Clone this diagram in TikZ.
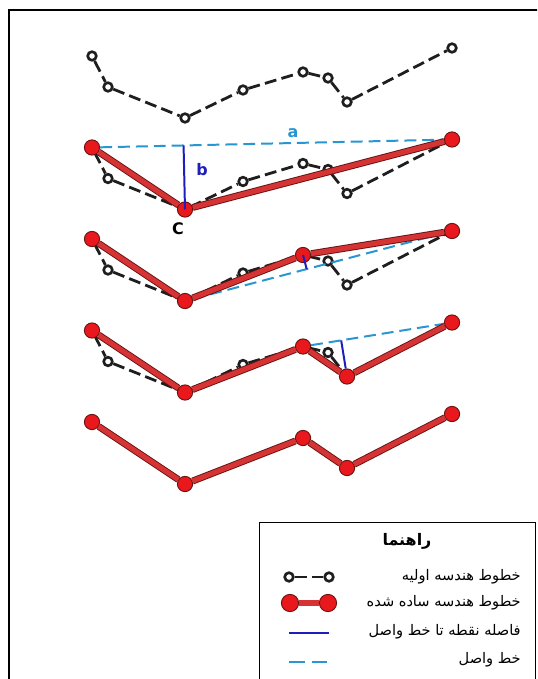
\documentclass[tikz,border=0pt]{standalone}
\usepackage{fontspec}
\setmainfont{DejaVu Sans}
\newfontfamily\arabicfont[Script=Arabic]{DejaVu Sans}
\TeXXeTstate=1
\usetikzlibrary{calc}
\definecolor{ptred}{RGB}{232,24,28}
\definecolor{edgered}{RGB}{105,18,18}
\definecolor{linered}{RGB}{214,52,52}
\definecolor{joinblue}{RGB}{40,150,210}
\definecolor{distblue}{RGB}{30,30,190}
\definecolor{origgray}{RGB}{30,30,30}

\begin{document}
\begin{tikzpicture}[x=0.0265cm,y=-0.0265cm,
  orig/.style={circle,draw=origgray,fill=white,line width=2pt,minimum size=6.5pt,inner sep=0pt},
  origline/.style={origgray,line width=2.1pt,dash pattern=on 9pt off 4pt},
  simp/.style={circle,draw=edgered,fill=ptred,line width=0.7pt,minimum size=11.5pt,inner sep=0pt},
  simpline/.style={draw=edgered,double=linered,double distance=3.8pt,line width=0.7pt},
  joinline/.style={joinblue,line width=1.5pt,dash pattern=on 9pt off 4.5pt},
  distline/.style={distblue,line width=1.5pt},
  lbl/.style={font=\bfseries\large},
  legtext/.style={anchor=east,inner sep=0pt,font=\arabicfont\fontsize{11}{13}\selectfont}
]
  \useasboundingbox (0,0) rectangle (537,679);
  \fill[white] (0,0) rectangle (537,679);
  \clip (0,0) rectangle (537,679);
  \draw[line width=1.5pt] (9,10) rectangle (560,700);

  % original vertices of the line
  \foreach \i/\x/\y in {1/92/56,2/108/87,3/185/118,4/243/90,5/303/72,6/328/78,7/347/102,8/452/48}
    \coordinate (p\i) at (\x,\y);

  % rows with the original geometry
  \foreach \row in {0,1,2,3}{
    \foreach \i in {1,...,8}
      \node[orig] (o\row-\i) at ($(p\i)+(0,91.5*\row)$) {};
    \draw[origline] (o\row-1) -- (o\row-2) -- (o\row-3) -- (o\row-4) -- (o\row-5)
      -- (o\row-6) -- (o\row-7) -- (o\row-8);
  }

  % simplified vertices
  \foreach \row/\pts in {1/{1,3,8},2/{1,3,5,8},3/{1,3,5,7,8},4/{1,3,5,7,8}}
    \foreach \i in \pts
      \node[simp] (s\row-\i) at ($(p\i)+(0,91.5*\row)$) {};

  \draw[joinline] (s1-1) -- (s1-8);
  \draw[joinline] (s2-3) -- (s2-8);
  \draw[joinline] (s3-5) -- (s3-8);

  \draw[simpline] (s1-1) -- (s1-3) -- (s1-8);
  \draw[simpline] (s2-1) -- (s2-3) -- (s2-5) -- (s2-8);
  \draw[simpline] (s3-1) -- (s3-3) -- (s3-5) -- (s3-7) -- (s3-8);
  \draw[simpline] (s4-1) -- (s4-3) -- (s4-5) -- (s4-7) -- (s4-8);

  \coordinate (f1) at ($(s1-1)!(s1-3)!(s1-8)$);
  \coordinate (f2) at ($(s2-3)!(s2-5)!(s2-8)$);
  \coordinate (f3) at ($(s3-5)!(s3-7)!(s3-8)$);
  \draw[distline] (s1-3.center) -- (f1);
  \draw[distline] (s2-5.center) -- (f2);
  \draw[distline] (s3-7) -- (f3);

  \node[lbl,text=joinblue] (la) at (293,133) {a};
  \node[lbl,text=distblue] (lb) at (202,170) {b};
  \node[lbl] (lc) at (178,229) {C};

  % legend
  \draw[line width=0.6pt] (259,522) rectangle (535,700);
  \node[font=\arabicfont\bfseries\fontsize{12}{14}\selectfont] (legtitle) at (407,541) {\beginR راهنما\endR};
  \node[orig] (lo1) at (289,577) {};
  \node[orig] (lo2) at (329,577) {};
  \draw[origline] (lo1) -- (lo2);
  \node[simp,minimum size=13pt] (ls1) at (290,603) {};
  \node[simp,minimum size=13pt] (ls2) at (328,603) {};
  \draw[simpline] (ls1) -- (ls2);
  \coordinate (ld1) at (289,633);
  \coordinate (ld2) at (329,633);
  \draw[distline] (ld1) -- (ld2);
  \coordinate (lj1) at (289,662);
  \coordinate (lj2) at (329,662);
  \draw[joinline,dash pattern=on 12pt off 5pt] (lj1) -- (lj2);
  \node[legtext] (lt1) at (521,577) {\beginR خطوط هندسه اولیه\endR};
  \node[legtext] (lt2) at (521,603) {\beginR خطوط هندسه ساده شده\endR};
  \node[legtext] (lt3) at (521,632) {\beginR فاصله نقطه تا خط واصل\endR};
  \node[legtext] (lt4) at (521,660) {\beginR خط واصل\endR};
\end{tikzpicture}
\end{document}
